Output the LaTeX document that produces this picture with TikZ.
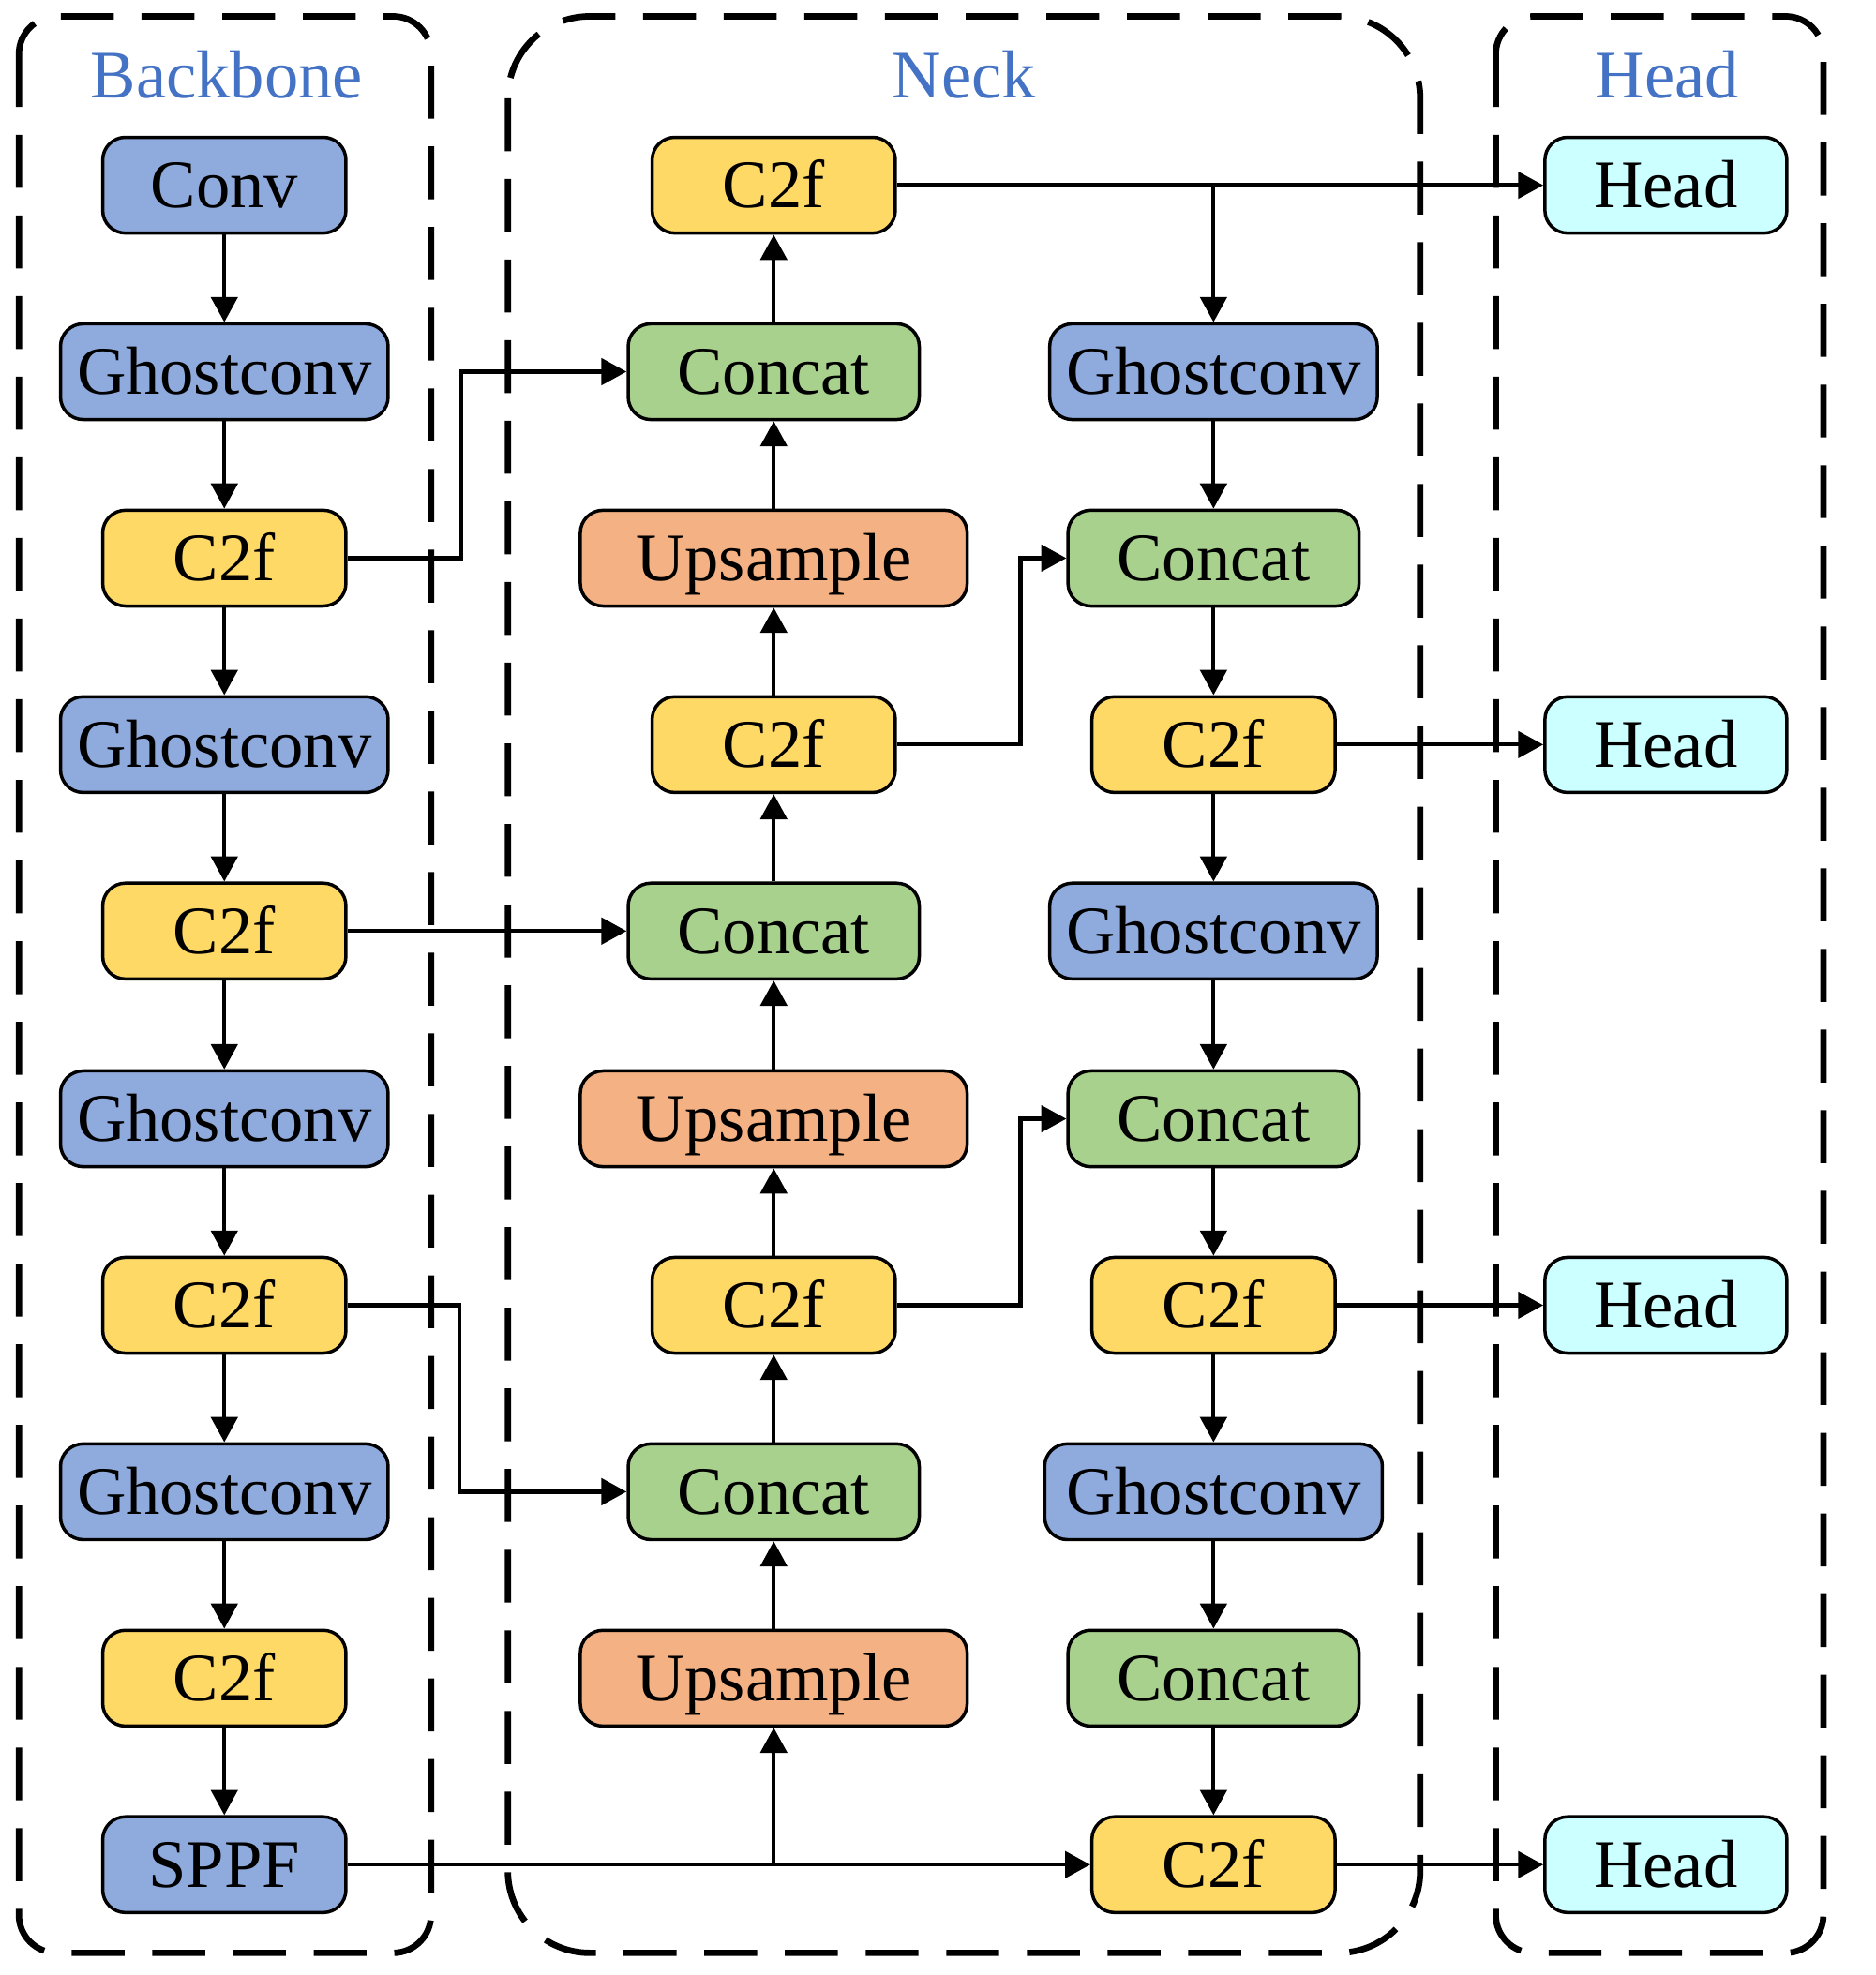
\documentclass[tikz,border=0pt]{standalone}
\usepackage{fontspec}
\setmainfont{Liberation Serif}
\usetikzlibrary{arrows.meta}
\definecolor{cblue}{HTML}{8FAADC}
\definecolor{cyel}{HTML}{FFD966}
\definecolor{cgrn}{HTML}{A9D18E}
\definecolor{corg}{HTML}{F4B183}
\definecolor{ccyn}{HTML}{CCFFFF}
\definecolor{ctitle}{HTML}{4472C4}
\tikzset{
  blk/.style={draw, line width=2.6pt, rounded corners=18pt, minimum height=76pt,
    inner sep=0pt, text height=36pt, text depth=0pt,
    font=\fontsize{54}{60}\selectfont},
  bluebox/.style={blk, fill=cblue},
  yelbox/.style={blk, fill=cyel},
  grnbox/.style={blk, fill=cgrn},
  orgbox/.style={blk, fill=corg},
  cynbox/.style={blk, fill=ccyn},
  grp/.style={draw, line width=5pt, dash pattern=on 42pt off 22pt},
  ttl/.style={text=ctitle, font=\fontsize{54}{60}\selectfont, anchor=base, inner sep=0pt},
  arr/.style={line width=3.1pt, -{Triangle[length=20pt,width=21pt]}},
  ln/.style={line width=3.1pt}
}
\begin{document}
\begin{tikzpicture}[x=1pt,y=-1pt]
\useasboundingbox (0,0) rectangle (1488,1567.6);
% group frames
\draw[grp, rounded corners=30pt] (15,13) rectangle (342,1550);
\draw[grp, rounded corners=65pt] (403,13) rectangle (1127,1550);
\draw[grp, rounded corners=30pt] (1187,13) rectangle (1447,1550);
\node[ttl] (tb) at (180,78) {Backbone};
\node[ttl] (tn) at (765,78) {Neck};
\node[ttl] (th) at (1323,78) {Head};
% backbone
\node[bluebox, minimum width=193pt] (b0) at (178,147) {Conv};
\node[bluebox, minimum width=260pt] (b1) at (178,295) {Ghostconv};
\node[yelbox, minimum width=193pt] (b2) at (178,443) {C2f};
\node[bluebox, minimum width=260pt] (b3) at (178,591) {Ghostconv};
\node[yelbox, minimum width=193pt] (b4) at (178,739) {C2f};
\node[bluebox, minimum width=260pt] (b5) at (178,888) {Ghostconv};
\node[yelbox, minimum width=193pt] (b6) at (178,1036) {C2f};
\node[bluebox, minimum width=260pt] (b7) at (178,1184) {Ghostconv};
\node[yelbox, minimum width=193pt] (b8) at (178,1332) {C2f};
\node[bluebox, minimum width=193pt] (b9) at (178,1480) {SPPF};
% neck column 1
\node[yelbox, minimum width=193pt] (n0) at (614,147) {C2f};
\node[grnbox, minimum width=231pt] (n1) at (614,295) {Concat};
\node[orgbox, minimum width=307pt] (n2) at (614,443) {Upsample};
\node[yelbox, minimum width=193pt] (n3) at (614,591) {C2f};
\node[grnbox, minimum width=231pt] (n4) at (614,739) {Concat};
\node[orgbox, minimum width=307pt] (n5) at (614,888) {Upsample};
\node[yelbox, minimum width=193pt] (n6) at (614,1036) {C2f};
\node[grnbox, minimum width=231pt] (n7) at (614,1184) {Concat};
\node[orgbox, minimum width=307pt] (n8) at (614,1332) {Upsample};
% neck column 2
\node[bluebox, minimum width=260pt] (m1) at (963,295) {Ghostconv};
\node[grnbox, minimum width=231pt] (m2) at (963,443) {Concat};
\node[yelbox, minimum width=193pt] (m3) at (963,591) {C2f};
\node[bluebox, minimum width=260pt] (m4) at (963,739) {Ghostconv};
\node[grnbox, minimum width=231pt] (m5) at (963,888) {Concat};
\node[yelbox, minimum width=193pt] (m6) at (963,1036) {C2f};
\node[bluebox, minimum width=268pt] (m7) at (963,1184) {Ghostconv};
\node[grnbox, minimum width=231pt] (m8) at (963,1332) {Concat};
\node[yelbox, minimum width=193pt] (m9) at (963,1480) {C2f};
% heads
\node[cynbox, minimum width=192pt] (h0) at (1322,147) {Head};
\node[cynbox, minimum width=192pt] (h3) at (1322,591) {Head};
\node[cynbox, minimum width=192pt] (h6) at (1322,1036) {Head};
\node[cynbox, minimum width=192pt] (h9) at (1322,1480) {Head};
% backbone arrows
\foreach \a/\b in {b0/b1,b1/b2,b2/b3,b3/b4,b4/b5,b5/b6,b6/b7,b7/b8,b8/b9}
  \draw[arr] (\a) -- (\b);
% neck column 1 arrows (upwards)
\foreach \a/\b in {n8/n7,n7/n6,n6/n5,n5/n4,n4/n3,n3/n2,n2/n1,n1/n0}
  \draw[arr] (\a) -- (\b);
% neck column 2 arrows
\foreach \a/\b in {m1/m2,m2/m3,m3/m4,m4/m5,m5/m6,m6/m7,m7/m8,m8/m9}
  \draw[arr] (\a) -- (\b);
% lateral connections
\draw[arr] (b2.east) -- ++(90,0) |- (n1.west);
\draw[arr] (b4) -- (n4);
\draw[arr] (b6.east) -- ++(89,0) |- (n7.west);
\draw[arr] (b9) -- (m9);
\coordinate (j1) at (b9 -| n8);
\draw[arr] (j1) -- (n8);
\draw[arr] (n3.east) -- ++(98,0) |- (m2.west);
\draw[arr] (n6.east) -- ++(98,0) |- (m5.west);
\draw[arr] (n0) -- (h0);
\coordinate (j2) at (n0 -| m1);
\draw[arr] (j2) -- (m1);
\draw[arr] (m3) -- (h3);
\draw[arr] (m6) -- (h6);
\draw[arr] (m9) -- (h9);
\end{tikzpicture}
\end{document}
